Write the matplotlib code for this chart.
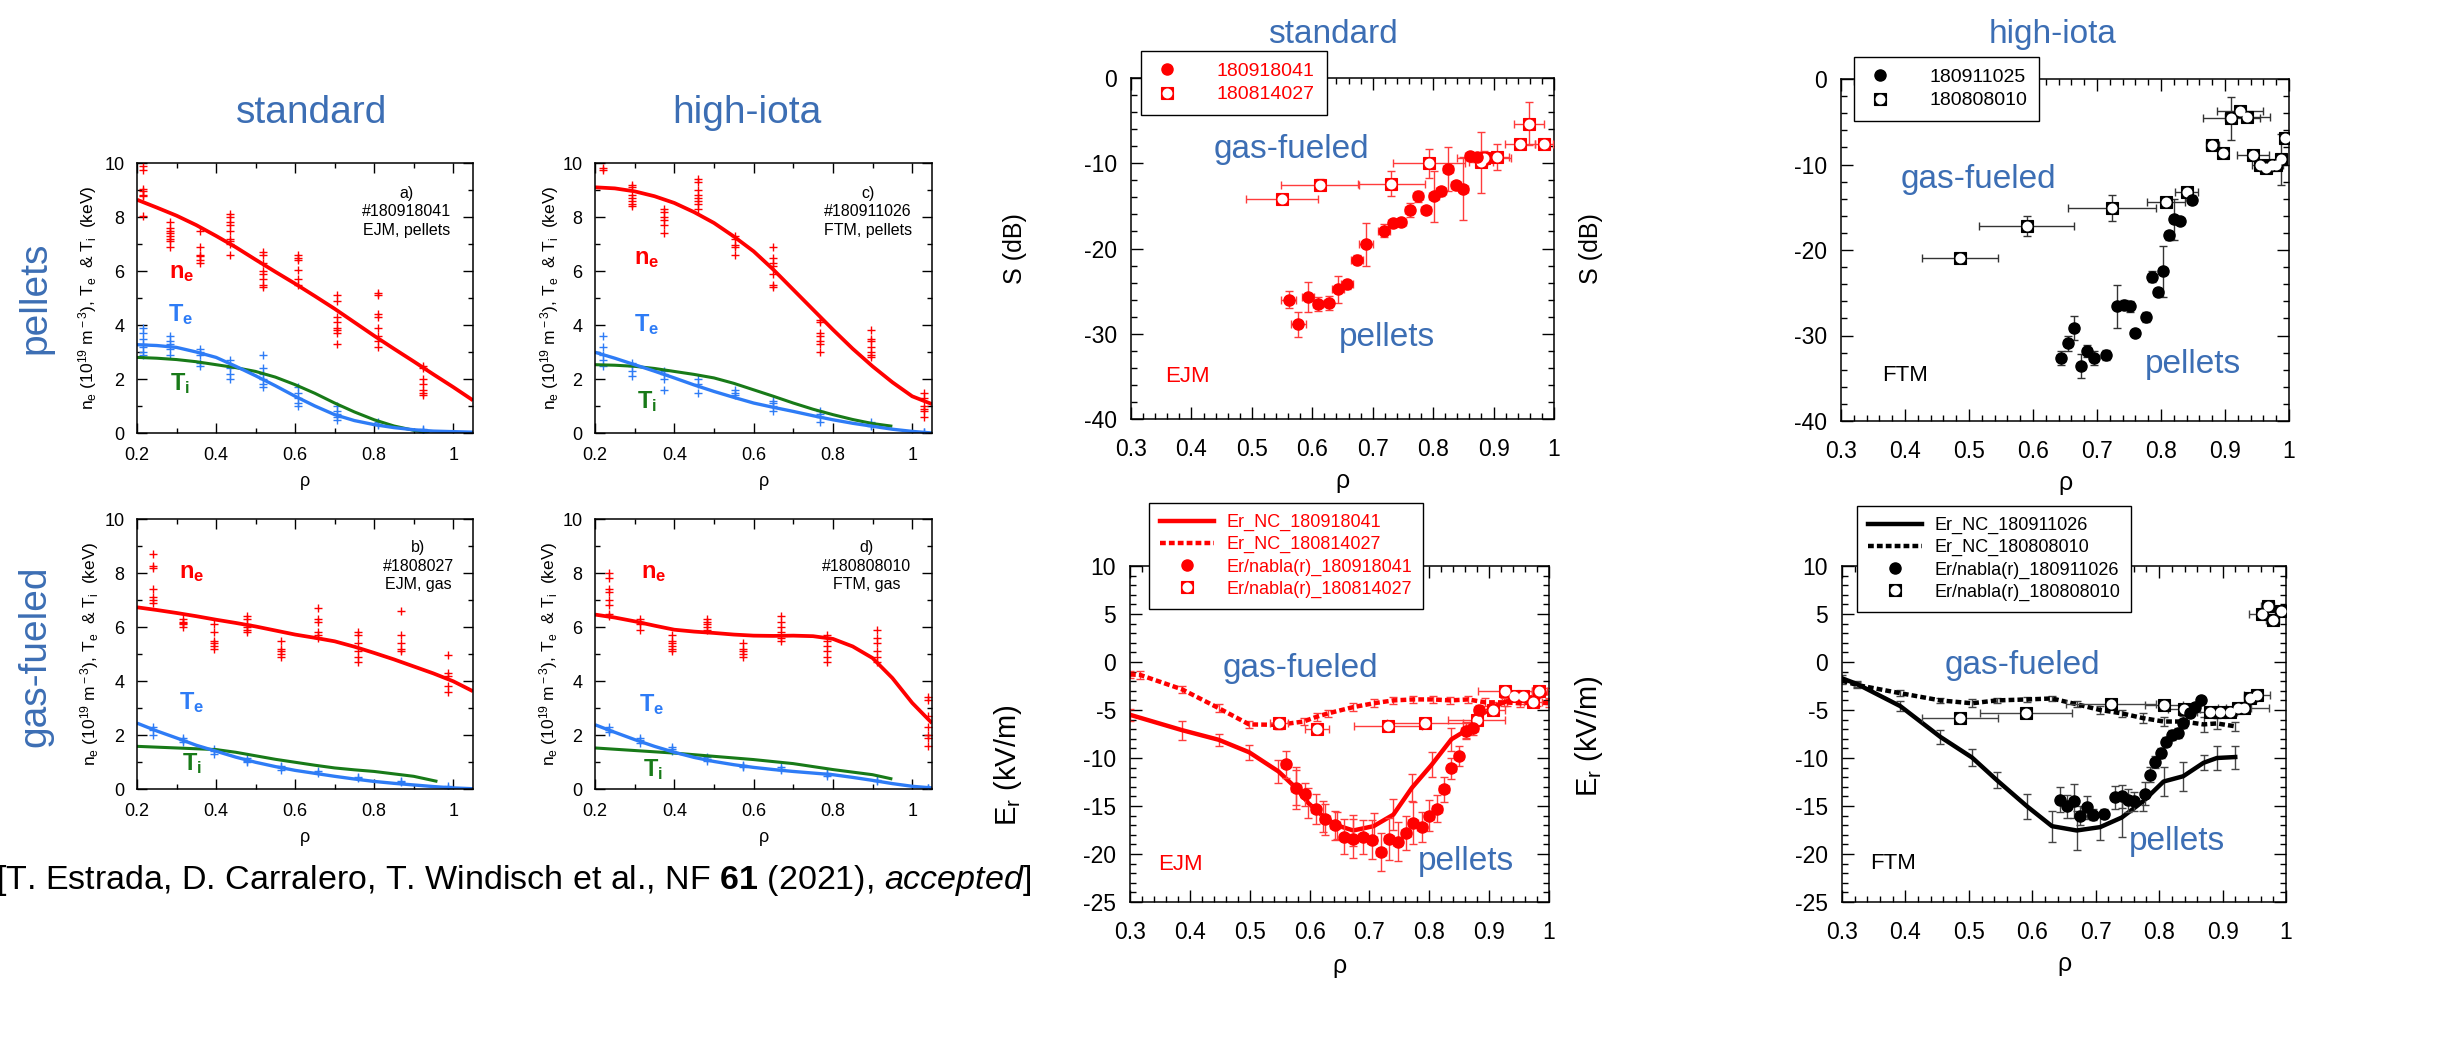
import matplotlib
matplotlib.use('Agg')
import matplotlib.pyplot as plt
import matplotlib.font_manager as fm
from matplotlib.ticker import MultipleLocator, FuncFormatter

# fonts: condensed face for the blue labels / citation if it is there
_names = {f.name for f in fm.fontManager.ttflist}
NARROW = 'Liberation Sans Narrow' if 'Liberation Sans Narrow' in _names else 'Liberation Sans'
IS_NARROW = NARROW == 'Liberation Sans Narrow'

plt.rcParams['font.family'] = ['Liberation Sans', 'DejaVu Sans']
plt.rcParams['mathtext.fontset'] = 'custom'
plt.rcParams['mathtext.rm'] = NARROW
plt.rcParams['mathtext.it'] = NARROW + ':italic'
plt.rcParams['mathtext.bf'] = NARROW + ':bold'
plt.rcParams['axes.linewidth'] = 1.1

RED = '#ff0000'
ERED = '#ff3c3c'
BLUE = '#3c6eb4'
TEC = '#2e7cf6'
TIC = '#187a18'

# ---------------- profiles (left block) ----------------
FIT_RHO = [0.2, 0.25, 0.3, 0.35, 0.4, 0.45, 0.5, 0.55, 0.6, 0.65, 0.7, 0.75, 0.8, 0.85, 0.9, 0.95, 1.0, 1.05]

# a) standard, pellets
A_RHO = [0.214, 0.284, 0.36, 0.436, 0.518, 0.607, 0.705, 0.809, 0.924]
A_NE = [[9.88, 9.75, 9.04, 8.95, 8.83, 8.77, 8.02], [7.8, 7.6, 7.5, 7.4, 7.3, 7.2, 7.1, 6.9],
        [7.5, 6.9, 6.6, 6.55, 6.4, 6.3], [8.1, 8.0, 7.8, 7.7, 7.5, 7.2, 7.1, 7.0, 6.6],
        [6.7, 6.6, 6.3, 6.0, 5.9, 5.7, 5.5, 5.4], [6.6, 6.5, 6.4, 6.05, 5.7, 5.5],
        [5.1, 4.9, 4.3, 4.1, 3.9, 3.8, 3.7, 3.3], [5.2, 5.1, 4.4, 4.3, 3.9, 3.6, 3.4, 3.2],
        [2.5, 2.4, 2.0, 1.8, 1.6, 1.5, 1.4]]
A_TE = [[3.9, 3.7, 3.5, 3.3, 3.2, 3.0, 2.9], [3.6, 3.4, 3.3, 3.1, 2.9], [3.1, 3.0, 2.9, 2.6, 2.5],
        [2.7, 2.5, 2.4, 2.2, 2.0], [2.9, 2.4, 2.2, 2.0, 1.8, 1.7], [1.7, 1.5, 1.3, 1.1, 1.0],
        [1.0, 0.8, 0.7, 0.6, 0.5], [0.4, 0.35, 0.3], [0.15, 0.1, 0.05]]
A_NE_FIT = [8.64, 8.35, 8.05, 7.7, 7.3, 6.88, 6.42, 5.97, 5.53, 5.07, 4.6, 4.1, 3.6, 3.12, 2.65, 2.17, 1.7, 1.21]
A_TE_FIT = [3.27, 3.24, 3.17, 3.0, 2.8, 2.47, 2.12, 1.75, 1.36, 1.0, 0.68, 0.46, 0.31, 0.2, 0.12, 0.07, 0.05, 0.03]
A_TI_RHO = [0.2, 0.25, 0.3, 0.35, 0.4, 0.45, 0.5, 0.55, 0.6, 0.65, 0.7, 0.75, 0.8, 0.85, 0.9, 0.94]
A_TI_FIT = [2.8, 2.77, 2.72, 2.64, 2.53, 2.42, 2.28, 2.07, 1.79, 1.47, 1.11, 0.78, 0.49, 0.26, 0.1, 0.0]

# c) high-iota, pellets
C_RHO = [0.219, 0.294, 0.374, 0.461, 0.553, 0.65, 0.767, 0.895, 1.03]
C_NE = [[9.8, 9.75], [9.2, 9.1, 8.8, 8.7, 8.6, 8.5, 8.4], [8.3, 8.2, 8.0, 7.9, 7.7, 7.4],
        [9.4, 9.3, 9.0, 8.8, 8.7, 8.6, 8.5, 8.3], [7.3, 7.2, 6.95, 6.9, 6.6],
        [6.9, 6.5, 6.3, 6.2, 5.9, 5.5, 5.4], [4.2, 4.1, 3.7, 3.6, 3.4, 3.3, 3.0],
        [3.8, 3.5, 3.4, 3.2, 3.0, 2.9, 2.8], [1.5, 1.3, 1.0, 0.9, 0.8, 0.6]]
C_TE = [[3.6, 3.2, 2.9, 2.7, 2.5], [2.6, 2.5, 2.3, 2.1], [2.3, 2.2, 2.0, 1.6], [2.0, 1.8, 1.5],
        [1.6, 1.5, 1.4], [1.2, 1.1, 1.0, 0.8], [0.8, 0.7, 0.6, 0.4], [0.4, 0.3, 0.25], [0.05, 0.02]]
C_NE_FIT = [9.1, 9.06, 8.95, 8.77, 8.52, 8.18, 7.78, 7.28, 6.73, 6.05, 5.31, 4.57, 3.83, 3.12, 2.47, 1.88, 1.36, 1.07]
C_TE_FIT = [2.99, 2.77, 2.53, 2.29, 2.04, 1.78, 1.54, 1.32, 1.11, 0.95, 0.8, 0.64, 0.49, 0.36, 0.25, 0.14, 0.06, 0.0]
C_TI_RHO = [0.2, 0.25, 0.3, 0.35, 0.4, 0.45, 0.5, 0.55, 0.6, 0.65, 0.7, 0.75, 0.8, 0.85, 0.9, 0.95]
C_TI_FIT = [2.53, 2.51, 2.47, 2.39, 2.28, 2.17, 2.04, 1.84, 1.6, 1.36, 1.11, 0.88, 0.68, 0.5, 0.35, 0.25]

# b) standard, gas
B_RHO = [0.24, 0.316, 0.396, 0.478, 0.565, 0.659, 0.76, 0.869, 0.987]
B_NE = [[8.7, 8.25, 8.2, 7.4, 7.1, 7.0, 6.9], [6.3, 6.2, 6.15, 6.1, 6.0], [6.1, 5.8, 5.5, 5.4, 5.3, 5.2],
        [6.4, 6.3, 6.1, 6.0, 5.9, 5.8], [5.5, 5.2, 5.1, 5.0, 4.9], [6.7, 6.3, 6.2, 5.8, 5.7, 5.6],
        [5.8, 5.7, 5.4, 5.1, 4.9, 4.7], [6.6, 5.7, 5.4, 5.2, 5.1], [4.95, 4.3, 4.2, 3.8, 3.6]]
B_TE = [[2.3, 2.2, 2.0], [1.9, 1.8, 1.75], [1.5, 1.4, 1.3], [1.15, 1.05, 1.0], [0.85, 0.8, 0.7],
        [0.65, 0.6], [0.45, 0.4], [0.3, 0.25], [0.1, 0.05]]
B_NE_FIT = [6.73, 6.63, 6.52, 6.4, 6.27, 6.15, 6.02, 5.87, 5.72, 5.6, 5.47, 5.27, 5.04, 4.8, 4.54, 4.28, 3.99, 3.62]
B_TE_FIT = [2.44, 2.15, 1.89, 1.62, 1.4, 1.18, 0.99, 0.83, 0.69, 0.58, 0.47, 0.37, 0.28, 0.21, 0.15, 0.09, 0.04, 0.01]
B_TI_RHO = [0.2, 0.3, 0.4, 0.45, 0.5, 0.55, 0.6, 0.65, 0.7, 0.75, 0.8, 0.85, 0.9, 0.96]
B_TI_FIT = [1.58, 1.52, 1.46, 1.36, 1.23, 1.1, 0.99, 0.88, 0.78, 0.71, 0.65, 0.56, 0.47, 0.28]

# d) high-iota, gas
D_RHO = [0.236, 0.314, 0.394, 0.482, 0.573, 0.669, 0.784, 0.912, 1.04]
D_NE = [[8.0, 7.8, 7.4, 7.3, 7.0, 6.8, 6.5, 6.4], [6.3, 6.2, 6.1, 5.9], [5.7, 5.5, 5.4, 5.3, 5.2, 5.1],
        [6.3, 6.2, 6.1, 6.0, 5.9], [5.4, 5.2, 5.1, 5.0, 4.9], [6.4, 6.2, 6.0, 5.8, 5.6, 5.5],
        [5.7, 5.5, 5.3, 5.1, 4.9, 4.7], [5.9, 5.6, 5.4, 5.1, 4.9, 4.7], [3.4, 3.3, 2.7, 2.3, 2.0, 1.9, 1.6]]
D_TE = [[2.3, 2.2, 2.1], [1.9, 1.8, 1.7], [1.55, 1.5, 1.4], [1.2, 1.1, 1.05], [0.9, 0.85, 0.8],
        [0.8, 0.75, 0.7], [0.6, 0.55, 0.5], [0.35, 0.3], [0.05, 0.03]]
D_NE_FIT = [6.46, 6.35, 6.21, 6.05, 5.9, 5.83, 5.78, 5.72, 5.68, 5.67, 5.68, 5.66, 5.56, 5.28, 4.85, 4.11, 3.19, 2.44]
D_TE_FIT = [2.38, 2.1, 1.83, 1.58, 1.36, 1.17, 1.02, 0.9, 0.8, 0.72, 0.65, 0.59, 0.53, 0.43, 0.32, 0.2, 0.1, 0.04]
D_TI_RHO = [0.2, 0.4, 0.6, 0.7, 0.8, 0.9, 0.95]
D_TI_FIT = [1.52, 1.33, 1.09, 0.94, 0.72, 0.53, 0.37]

# ---------------- S (dB) ----------------
S1_RHO = [0.561, 0.577, 0.593, 0.610, 0.627, 0.642, 0.657, 0.674, 0.689, 0.718, 0.733, 0.747, 0.761,
          0.775, 0.788, 0.801, 0.813, 0.825, 0.838, 0.850, 0.861, 0.872]
S1_VAL = [-26.0, -28.9, -25.7, -26.5, -26.4, -24.8, -24.2, -21.3, -19.5, -17.9, -17.0, -16.9, -15.5,
          -13.9, -15.5, -13.9, -13.3, -10.7, -12.6, -13.0, -9.2, -9.3]
S1_YERR = [1.0, 1.5, 1.8, 0.8, 0.8, 1.6, 0.5, 0.5, 2.5, 0.8, 0.5, 0.5, 0.8, 0.6, 0.5, 3.0, 0.5, 2.6,
           0.5, 3.7, 0.5, 0.5]
S1_XERR = [0.012, 0.012, 0.010, 0.008, 0.008, 0.010, 0.010, 0.010, 0.012, 0.010, 0.008, 0.008, 0.008,
           0.008, 0.008, 0.008, 0.008, 0.008, 0.008, 0.008, 0.008, 0.008]
S2_RHO = [0.550, 0.613, 0.731, 0.793, 0.879, 0.884, 0.906, 0.944, 0.958, 0.984]
S2_VAL = [-14.2, -12.5, -12.4, -10.0, -9.9, -9.4, -9.3, -7.8, -5.35, -7.8]
S2_YERR = [0.6, 0.6, 1.5, 1.7, 3.6, 0.8, 1.5, 0.5, 2.5, 0.5]
S2_XERR = [0.06, 0.064, 0.055, 0.059, 0.02, 0.045, 0.02, 0.025, 0.025, 0.015]

S3_RHO = [0.644, 0.655, 0.664, 0.675, 0.685, 0.695, 0.714, 0.732, 0.742, 0.751, 0.760, 0.777, 0.786,
          0.795, 0.803, 0.812, 0.820, 0.830, 0.848]
S3_VAL = [-32.6, -30.9, -29.1, -33.6, -31.8, -32.6, -32.3, -26.6, -26.4, -26.6, -29.7, -27.8, -23.1,
          -24.9, -22.5, -18.3, -16.4, -16.6, -14.1]
S3_YERR = [0.8, 0.9, 1.4, 1.4, 0.7, 0.8, 0.6, 2.5, 0.5, 0.6, 0.4, 0.6, 0.6, 0.4, 3.0, 0.5, 2.4, 0.4, 0.5]
S3_XERR = [0.006] * 19
S4_RHO = [0.486, 0.590, 0.723, 0.808, 0.840, 0.880, 0.897, 0.910, 0.923, 0.935, 0.943, 0.954, 0.964,
          0.973, 0.980, 0.987, 0.994]
S4_VAL = [-20.9, -17.2, -15.05, -14.4, -13.2, -7.7, -8.7, -4.6, -3.7, -4.45, -8.9, -10.0, -10.4,
          -10.1, -10.0, -9.4, -6.9]
S4_YERR = [0.5, 1.2, 1.5, 0.5, 0.5, 0.5, 0.5, 2.5, 0.5, 0.6, 0.5, 0.4, 0.5, 0.5, 0.5, 3.0, 0.5]
S4_XERR = [0.059, 0.074, 0.069, 0.03, 0.018, 0.01, 0.008, 0.044, 0.036, 0.035, 0.025, 0.012, 0.01,
           0.01, 0.01, 0.006, 0.006]

# ---------------- Er (kV/m) ----------------
E1_NC_RHO = [0.300, 0.387, 0.448, 0.499, 0.548, 0.577, 0.598, 0.623, 0.645, 0.673, 0.707, 0.740, 0.771,
             0.804, 0.837, 0.862, 0.882, 0.907, 0.929, 0.952, 0.976, 1.0]
E1_NC = [-5.5, -7.1, -8.1, -9.4, -11.4, -13.1, -14.7, -16.1, -17.0, -17.55, -17.1, -15.9, -13.1, -10.7,
         -8.05, -7.1, -5.7, -4.65, -4.1, -3.9, -3.6, -3.2]
E1_NC_ERR = [0.6, 1.0, 0.6, 0.8, 1.2, 1.8, 1.6, 1.6, 1.4, 1.6, 1.4, 1.6, 1.4, 1.3, 1.2, 0.8, 0.6, 0.5,
             0.5, 0.5, 0.5, 0.5]
E2_NC_RHO = [0.300, 0.317, 0.387, 0.448, 0.499, 0.548, 0.590, 0.612, 0.631, 0.673, 0.707, 0.740, 0.773,
             0.806, 0.835, 0.865, 0.893, 0.924, 0.952, 0.980, 1.0]
E2_NC = [-1.3, -1.35, -2.85, -4.8, -6.5, -6.55, -6.2, -5.7, -5.35, -4.7, -4.3, -4.0, -3.9, -3.9, -4.0,
         -3.9, -4.2, -4.2, -4.3, -4.2, -4.3]
E2_NC_ERR = [0.4] * 21
E1_RHO = [0.560, 0.577, 0.593, 0.610, 0.626, 0.642, 0.658, 0.673, 0.689, 0.704, 0.719, 0.733, 0.747,
          0.761, 0.773, 0.788, 0.800, 0.813, 0.825, 0.837, 0.849, 0.861, 0.873, 0.883]
E1_VAL = [-10.65, -13.15, -13.8, -15.3, -16.4, -17.0, -18.2, -18.4, -18.25, -18.5, -19.8, -18.4, -18.7,
          -17.8, -16.8, -17.2, -16.0, -15.3, -13.25, -11.05, -9.8, -7.2, -6.9, -5.05]
E1_YERR = [1.4, 2.2, 1.2, 1.6, 1.6, 1.5, 1.8, 2.0, 1.8, 2.0, 2.0, 2.2, 2.0, 1.8, 2.2, 1.6, 1.6, 1.4,
           1.3, 1.1, 1.0, 0.8, 0.7, 0.6]
E1_XERR = [0.008] * 24
E2_RHO = [0.549, 0.613, 0.731, 0.793, 0.879, 0.907, 0.927, 0.942, 0.957, 0.974, 0.984]
E2_VAL = [-6.4, -7.0, -6.7, -6.4, -6.0, -5.0, -3.0, -3.5, -3.5, -4.2, -3.0]
E2_XERR = [0.015, 0.02, 0.057, 0.064, 0.047, 0.02, 0.045, 0.02, 0.025, 0.015, 0.012]
E2_YERR = [0.6, 0.5, 0.5, 0.5, 0.5, 0.5, 0.5, 0.5, 0.5, 0.5, 0.5]

E3_NC_RHO = [0.300, 0.324, 0.392, 0.455, 0.505, 0.544, 0.592, 0.631, 0.670, 0.707, 0.741, 0.775, 0.807,
             0.838, 0.870, 0.891, 0.920]
E3_NC = [-1.7, -2.3, -4.6, -7.8, -9.95, -12.3, -15.05, -17.1, -17.55, -17.2, -16.2, -14.5, -12.45,
         -11.9, -10.5, -10.0, -9.9]
E3_NC_ERR = [0.3, 0.3, 0.5, 0.7, 0.9, 0.8, 1.3, 1.6, 2.0, 1.3, 2.0, 1.0, 1.5, 1.5, 0.8, 1.2, 1.2]
E4_NC = [-1.95, -2.4, -3.25, -4.0, -4.3, -4.0, -3.9, -3.8, -4.4, -5.0, -5.35, -5.85, -6.2, -6.2,
         -6.5, -6.4, -6.7]
E4_NC_ERR = [0.3, 0.3, 0.3, 0.3, 0.4, 0.3, 0.3, 0.3, 0.3, 0.4, 0.4, 0.5, 0.5, 0.6, 0.8, 0.6, 0.5]
E3_RHO = [0.644, 0.655, 0.665, 0.676, 0.686, 0.695, 0.713, 0.731, 0.741, 0.751, 0.761, 0.778, 0.786,
          0.794, 0.803, 0.811, 0.820, 0.830, 0.838, 0.848, 0.857, 0.866]
E3_VAL = [-14.35, -15.05, -14.5, -16.0, -15.15, -15.9, -15.8, -14.1, -14.0, -14.4, -14.5, -13.7, -11.75,
          -10.4, -9.5, -8.3, -7.6, -7.4, -6.4, -5.35, -4.65, -4.0]
E3_YERR = [1.3, 1.2, 1.8, 1.0, 1.2, 0.6, 0.5, 1.2, 1.2, 1.2, 1.0, 1.2, 0.8, 0.6, 0.5, 0.5, 0.5, 0.5,
           0.5, 0.4, 0.4, 0.4]
E3_XERR = [0.005] * 22
E4_RHO = [0.486, 0.590, 0.724, 0.808, 0.839, 0.880, 0.896, 0.912, 0.925, 0.933, 0.944, 0.954, 0.962,
          0.971, 0.979, 0.992]
E4_VAL = [-5.8, -5.35, -4.4, -4.5, -4.9, -5.2, -5.25, -5.25, -4.75, -4.8, -3.7, -3.45, 5.0, 5.8, 4.35, 5.3]
E4_XERR = [0.06, 0.073, 0.071, 0.03, 0.025, 0.02, 0.01, 0.01, 0.02, 0.04, 0.01, 0.02, 0.02, 0.01,
           0.01, 0.008]
E4_YERR = [0.4] * 16

CITATION = r'[T. Estrada, D. Carralero, T. Windisch et al., NF $\mathbf{61}$ (2021), $\mathit{accepted}$]'

# text sizes (condensed face can be set larger)
K = 1.15 if IS_NARROW else 1.0
LEFT_BIG = 28 * K
RIGHT_BIG = 24 * K
CIT_SIZE = 24.5 * K

W, H = 2440, 1040
fig = plt.figure(figsize=(24.4, 10.4), dpi=100)


def box(x0, y0, x1, y1):
    return [x0 / W, 1 - y1 / H, (x1 - x0) / W, (y1 - y0) / H]


fmt = FuncFormatter(lambda v, p: f'{v:g}')


def style(ax, xlim, ylim, xmaj, xmin, ymaj, ymin, big):
    ax.set_xlim(*xlim)
    ax.set_ylim(*ylim)
    ax.xaxis.set_major_locator(MultipleLocator(xmaj))
    ax.xaxis.set_minor_locator(MultipleLocator(xmin))
    ax.yaxis.set_major_locator(MultipleLocator(ymaj))
    ax.yaxis.set_minor_locator(MultipleLocator(ymin))
    ax.xaxis.set_major_formatter(fmt)
    ax.yaxis.set_major_formatter(fmt)
    ax.tick_params(which='both', direction='in', top=True, right=True, width=1)
    if big:
        ax.tick_params(which='major', length=8.5, labelsize=16.5)
        ax.tick_params(which='minor', length=4.3)
        ax.tick_params(axis='x', pad=14)
        ax.tick_params(axis='y', pad=10)
    else:
        ax.tick_params(which='major', length=7, labelsize=13)
        ax.tick_params(which='minor', length=3.6)
        ax.tick_params(axis='x', pad=10)
        ax.tick_params(axis='y', pad=9)


def profile(ax, cl_rho, ne_cl, te_cl, ne_fit, te_fit, ti_rho, ti_fit, note, note_xy, labs, lab_y):
    style(ax, (0.2, 1.05), (0, 10), 0.2, 0.1, 2, 1, False)
    for r, vals in zip(cl_rho, ne_cl):
        ax.plot([r] * len(vals), vals, '+', color=RED, ms=6, mew=1)
    for r, vals in zip(cl_rho, te_cl):
        ax.plot([r] * len(vals), vals, '+', color=TEC, ms=6, mew=1)
    ax.plot(FIT_RHO, ne_fit, color=RED, lw=2.7, solid_capstyle='butt')
    ax.plot(ti_rho, ti_fit, color=TIC, lw=2.2, solid_capstyle='butt')
    ax.plot(FIT_RHO, te_fit, color=TEC, lw=2.4, solid_capstyle='butt')
    ax.text(note_xy[0], note_xy[1], note, ha='center', va='center', fontsize=11.5, linespacing=1.3)
    for (lx, ly), s, c in zip(labs, [r'n$_{\bf e}$', r'T$_{\bf e}$', r'T$_{\bf i}$'], [RED, TEC, TIC]):
        ax.text(lx, ly, s, color=c, fontsize=17, fontweight='bold', ha='center', va='center',
                family=NARROW)
    ax.set_xlabel('ρ', fontsize=13)
    ax.xaxis.label.set_va('center')
    ax.xaxis.set_label_coords(0.5, -0.18)
    ax.set_ylabel(r'n$_{\rm e}$ (10$^{\rm 19}$ m$^{\rm -3}$), T$_{\rm e}$  & T$_{\rm i}$  (keV)', fontsize=12.5)
    ax.yaxis.label.set(va='center', ha='center')
    ax.yaxis.set_label_coords(lab_y, 0.5)


ax_a = fig.add_axes(box(137, 163, 473, 433))
profile(ax_a, A_RHO, A_NE, A_TE, A_NE_FIT, A_TE_FIT, A_TI_RHO, A_TI_FIT,
        'a)\n#180918041\nEJM, pellets', (0.882, 8.2), [(0.314, 5.93), (0.31, 4.38), (0.31, 1.85)], -0.146)
ax_c = fig.add_axes(box(595, 163, 932, 433))
profile(ax_c, C_RHO, C_NE, C_TE, C_NE_FIT, C_TE_FIT, C_TI_RHO, C_TI_FIT,
        'c)\n#180911026\nFTM, pellets', (0.888, 8.2), [(0.33, 6.48), (0.33, 4.0), (0.33, 1.17)], -0.134)
ax_b = fig.add_axes(box(137, 519, 473, 789))
profile(ax_b, B_RHO, B_NE, B_TE, B_NE_FIT, B_TE_FIT, B_TI_RHO, B_TI_FIT,
        'b)\n#1808027\nEJM, gas', (0.912, 8.25), [(0.339, 8.0), (0.339, 3.19), (0.34, 0.96)], -0.14)
ax_d = fig.add_axes(box(595, 519, 932, 789))
profile(ax_d, D_RHO, D_NE, D_TE, D_NE_FIT, D_TE_FIT, D_TI_RHO, D_TI_FIT,
        'd)\n#180808010\nFTM, gas', (0.886, 8.25), [(0.347, 8.0), (0.343, 3.12), (0.347, 0.72)], -0.139)


def filled(ax, x, y, xe, ye, col, ecol):
    ax.errorbar(x, y, xerr=xe, yerr=ye, fmt='none', ecolor=ecol, elinewidth=1, capsize=3, zorder=3)
    h, = ax.plot(x, y, 'o', ms=8, color=col, ls='none', zorder=6)
    return h


def hollow(ax, x, y, xe, ye, col, ecol):
    ax.errorbar(x, y, xerr=xe, yerr=ye, fmt='none', ecolor=ecol, elinewidth=1, capsize=3, zorder=3)
    sq, = ax.plot(x, y, 's', ms=8, mfc=col, mec=col, mew=0.8, ls='none', zorder=4)
    ci, = ax.plot(x, y, 'o', ms=7.2, mfc='white', mec='none', ls='none', zorder=5)
    return (sq, ci)


def nc(ax, x, y, ye, col, ecol, ls):
    ax.errorbar(x, y, yerr=ye, fmt='none', ecolor=ecol, elinewidth=1, capsize=3, zorder=2)
    h, = ax.plot(x, y, color=col, lw=3.2, ls=ls, zorder=2.5)
    return h


def legend(ax, handles, labels, corner, col, hl, fs):
    leg = ax.legend(handles, labels, loc='upper left', bbox_to_anchor=(corner[0] / W, 1 - corner[1] / H),
                    bbox_transform=fig.transFigure, borderaxespad=0, fancybox=False, framealpha=1,
                    edgecolor='black', fontsize=fs, labelcolor=col,
                    handlelength=hl, handletextpad=0.7 if hl > 2 else 1.8, labelspacing=0.28,
                    borderpad=0.6)
    leg.get_frame().set_linewidth(1.0)
    leg.set_zorder(20)


def big_labels(ax, ylab, xl, yl, ly, fs):
    ax.set_xlabel('ρ', fontsize=18)
    ax.xaxis.label.set_va('center')
    ax.xaxis.set_label_coords(0.5, xl)
    ax.set_ylabel(ylab, fontsize=fs)
    ax.yaxis.label.set(va='center', ha='center')
    ax.yaxis.set_label_coords(yl, ly)


def words(ax, gas_xy, pel_xy, tag, tag_xy, tag_col):
    ax.text(*gas_xy, 'gas-fueled', color=BLUE, fontsize=RIGHT_BIG, family=NARROW, ha='center', va='center')
    ax.text(*pel_xy, 'pellets', color=BLUE, fontsize=RIGHT_BIG, family=NARROW, ha='center', va='center')
    ax.text(*tag_xy, tag, color=tag_col, fontsize=16, family=NARROW, ha='center', va='center')


# S standard
ax1 = fig.add_axes(box(1131, 78, 1554, 419))
style(ax1, (0.3, 1.0), (-40, 0), 0.1, 0.02, 10, 2, True)
h1 = filled(ax1, S1_RHO, S1_VAL, S1_XERR, S1_YERR, RED, ERED)
h2 = hollow(ax1, S2_RHO, S2_VAL, S2_XERR, S2_YERR, RED, ERED)
legend(ax1, [h1, h2], ['180918041', '180814027'], (1141, 51), RED, 1.5, 14)
big_labels(ax1, 'S (dB)', -0.182, -0.274, 0.5, 18)
words(ax1, (0.566, -8.4), (0.723, -30.4), 'EJM', (0.393, -35.0), RED)

# S high-iota
ax2 = fig.add_axes(box(1841, 79, 2289, 421))
style(ax2, (0.3, 1.0), (-40, 0), 0.1, 0.02, 10, 2, True)
h3 = filled(ax2, S3_RHO, S3_VAL, S3_XERR, S3_YERR, 'black', '#333333')
h4 = hollow(ax2, S4_RHO, S4_VAL, S4_XERR, S4_YERR, 'black', '#333333')
legend(ax2, [h3, h4], ['180911025', '180808010'], (1854, 57), 'black', 1.5, 14)
big_labels(ax2, 'S (dB)', -0.181, -0.558, 0.503, 18)
words(ax2, (0.514, -11.8), (0.850, -33.4), 'FTM', (0.40, -34.7), 'black')

# Er standard
ax3 = fig.add_axes(box(1130, 566, 1549, 902))
style(ax3, (0.3, 1.0), (-25, 10), 0.1, 0.02, 5, 1, True)
l1 = nc(ax3, E1_NC_RHO, E1_NC, E1_NC_ERR, RED, ERED, '-')
l2 = nc(ax3, E2_NC_RHO, E2_NC, E2_NC_ERR, RED, ERED, (0, (1.3, 0.7)))
h5 = filled(ax3, E1_RHO, E1_VAL, E1_XERR, E1_YERR, RED, ERED)
h6 = hollow(ax3, E2_RHO, E2_VAL, E2_XERR, E2_YERR, RED, ERED)
legend(ax3, [l1, l2, h5, h6], ['Er_NC_180918041', 'Er_NC_180814027', 'Er/nabla(r)_180918041',
                               'Er/nabla(r)_180814027'], (1149, 503), RED, 3.0, 13)
big_labels(ax3, r'E$_{\rm r}$ (kV/m)', -0.19, -0.29, 0.408, 21)
words(ax3, (0.584, -0.7), (0.862, -20.8), 'EJM', (0.384, -21.1), RED)

# Er high-iota
ax4 = fig.add_axes(box(1842, 566, 2286, 902))
style(ax4, (0.3, 1.0), (-25, 10), 0.1, 0.02, 5, 1, True)
l3 = nc(ax4, E3_NC_RHO, E3_NC, E3_NC_ERR, 'black', '#444444', '-')
l4 = nc(ax4, E3_NC_RHO, E4_NC, E4_NC_ERR, 'black', '#444444', (0, (1.3, 0.7)))
h7 = filled(ax4, E3_RHO, E3_VAL, E3_XERR, E3_YERR, 'black', '#444444')
h8 = hollow(ax4, E4_RHO, E4_VAL, E4_XERR, E4_YERR, 'black', '#444444')
legend(ax4, [l3, l4, h7, h8], ['Er_NC_180911026', 'Er_NC_180808010', 'Er/nabla(r)_180911026',
                               'Er/nabla(r)_180808010'], (1857, 506), 'black', 3.0, 13)
big_labels(ax4, r'E$_{\rm r}$ (kV/m)', -0.185, -0.57, 0.494, 21)
words(ax4, (0.585, -0.4), (0.828, -18.7), 'FTM', (0.381, -21.0), 'black')

# headings
for x, y, s, fs in [(312, 123, 'standard', LEFT_BIG), (747, 123, 'high-iota', LEFT_BIG),
                    (1333, 43, 'standard', RIGHT_BIG), (2053, 43, 'high-iota', RIGHT_BIG)]:
    fig.text(x / W, 1 - y / H, s, color=BLUE, fontsize=fs, family=NARROW, ha='center', va='baseline')
for y, s in [(298, 'pellets'), (656, 'gas-fueled')]:
    fig.text(35 / W, 1 - y / H, s, color=BLUE, fontsize=LEFT_BIG, family=NARROW, rotation=90,
             ha='center', va='center')

fig.text(-4 / W, 1 - 880 / H, CITATION, fontsize=CIT_SIZE, family=NARROW, ha='left', va='center')

fig.savefig('out.png', dpi=100)
